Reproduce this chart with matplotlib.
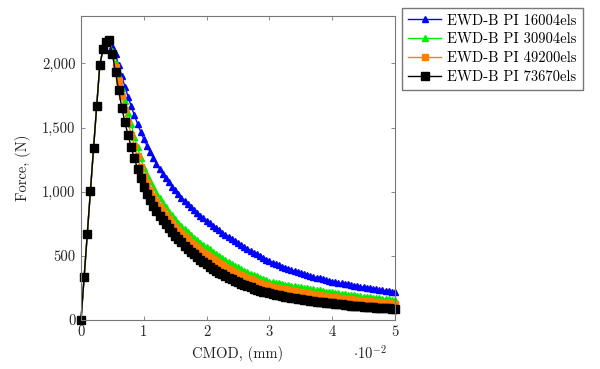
import numpy as np
import matplotlib
matplotlib.use('Agg')
import matplotlib.pyplot as plt
from matplotlib.ticker import FuncFormatter

# CMOD grid (mm), one mark every 0.0005 mm
cmod = np.linspace(0, 0.05, 101)

# shared elastic branch up to the peak (x = 0 ... 0.0045)
pre_peak = [0, 335, 670, 1005, 1340, 1670, 1990, 2110, 2165, 2180]

# softening branches (x = 0.005 ... 0.05)
soft_16004 = [2140, 2070, 1985, 1900, 1818, 1740, 1666, 1596, 1530, 1468, 1410,
              1358, 1309, 1263, 1220, 1180, 1142, 1106, 1072, 1040, 1010,
              981, 954, 928, 903, 879, 856, 834, 813, 793, 773,
              754, 735, 717, 699, 682, 665, 648, 632, 616, 600,
              584, 569, 554, 539, 525, 511, 497, 484, 471, 458,
              447, 437, 427, 417, 408, 399, 390, 382, 374, 366,
              358, 351, 344, 337, 330, 324, 318, 312, 306, 300,
              295, 290, 286, 281, 277, 272, 268, 263, 259, 255,
              251, 247, 243, 240, 236, 232, 229, 225, 222, 218]
soft_30904 = [2095, 2005, 1905, 1805, 1710, 1615, 1525, 1430, 1345, 1260, 1185,
              1130, 1080, 1033, 990, 950, 913, 878, 845, 815, 786,
              759, 733, 709, 686, 664, 643, 623, 604, 586, 569,
              551, 533, 516, 499, 483, 467, 452, 438, 424, 410,
              397, 385, 373, 362, 351, 340, 330, 319, 310, 300,
              295, 290, 285, 281, 276, 272, 267, 263, 258, 254,
              250, 246, 242, 238, 234, 230, 226, 222, 219, 215,
              212, 208, 205, 202, 198, 195, 192, 189, 186, 183,
              180, 177, 174, 171, 168, 166, 163, 160, 158, 156]
soft_49200 = [2085, 1975, 1860, 1745, 1640, 1540, 1445, 1358, 1275, 1195, 1120,
              1065, 1015, 968, 925, 885, 848, 815, 785, 756, 728,
              701, 676, 652, 629, 607, 586, 566, 547, 529, 512,
              494, 477, 460, 444, 428, 413, 399, 385, 371, 358,
              347, 336, 326, 316, 306, 297, 288, 279, 270, 262,
              257, 252, 248, 243, 239, 234, 230, 225, 221, 217,
              213, 209, 205, 201, 198, 194, 190, 187, 183, 180,
              177, 174, 170, 167, 164, 161, 158, 156, 153, 150,
              147, 145, 142, 139, 137, 134, 132, 130, 127, 125]
soft_73670 = [2070, 1930, 1790, 1655, 1540, 1440, 1345, 1260, 1180, 1105, 1040,
              985, 935, 890, 850, 812, 777, 745, 715, 686, 658,
              631, 605, 580, 556, 533, 511, 490, 471, 452, 434,
              417, 401, 385, 370, 356, 342, 329, 317, 305, 294,
              283, 273, 263, 254, 245, 237, 229, 222, 215, 209,
              203, 197, 192, 187, 182, 177, 173, 169, 165, 161,
              157, 153, 150, 147, 144, 141, 138, 135, 132, 129,
              126, 123, 121, 118, 116, 113, 111, 109, 107, 105,
              103, 101, 99, 97, 95, 93, 91, 90, 88, 86]

labels = ['EWD-B PI 16004els', 'EWD-B PI 30904els',
          'EWD-B PI 49200els', 'EWD-B PI 73670els']
series = [soft_16004, soft_30904, soft_49200, soft_73670]
colors = ['#0000ff', '#00ee00', '#ff8000', '#000000']
markers = ['^', '^', 's', 's']
msizes = [5, 5, 5, 5.2]

plt.rcParams['font.family'] = 'serif'
plt.rcParams['font.serif'] = ['cmr10', 'DejaVu Serif']
plt.rcParams['mathtext.fontset'] = 'cm'
plt.rcParams['axes.formatter.use_mathtext'] = True

fig = plt.figure(figsize=(6, 3.69), dpi=100)
ax = fig.add_axes([81 / 600, 1 - 320 / 369, 314 / 600, 304 / 369])

for soft, lab, col, mk, ms in zip(series, labels, colors, markers, msizes):
    force = np.array(pre_peak + soft, dtype=float)
    ax.plot(cmod, force, color=col, marker=mk, markersize=ms, linewidth=1.0,
            label=lab, clip_on=False)

ax.set_xlim(0, 0.05)
ax.set_ylim(0, 2370)
ax.set_xticks([0, 0.01, 0.02, 0.03, 0.04, 0.05])
ax.set_yticks([0, 500, 1000, 1500, 2000])
ax.xaxis.set_major_formatter(FuncFormatter(lambda v, p: '%d' % round(v * 100)))
ax.yaxis.set_major_formatter(FuncFormatter(lambda v, p: '{:,}'.format(int(v))))
ax.tick_params(direction='in', length=3, width=0.6, color='#777777',
               top=True, right=True, labelsize=10.5, labelcolor='#222222', pad=4)
for s in ax.spines.values():
    s.set_color('#777777')
    s.set_linewidth(0.8)

ax.set_xlabel('CMOD, (mm)', fontsize=10.5, color='#222222', labelpad=5)
ax.set_ylabel('Force, (N)', fontsize=10.5, color='#222222', labelpad=8)
fig.text(370 / 600, 1 - 353 / 369, r'$\cdot 10^{-2}$', fontsize=10.5,
         color='#222222', ha='center', va='center')

fig.legend(loc='upper left', bbox_to_anchor=(402 / 600, 1 - 8 / 369),
           borderaxespad=0, fancybox=False, edgecolor='#777777',
           fontsize=10.5, handlelength=2.3, labelspacing=0.35,
           handletextpad=0.4, borderpad=0.4, framealpha=1)

fig.savefig('out.png', dpi=100)
